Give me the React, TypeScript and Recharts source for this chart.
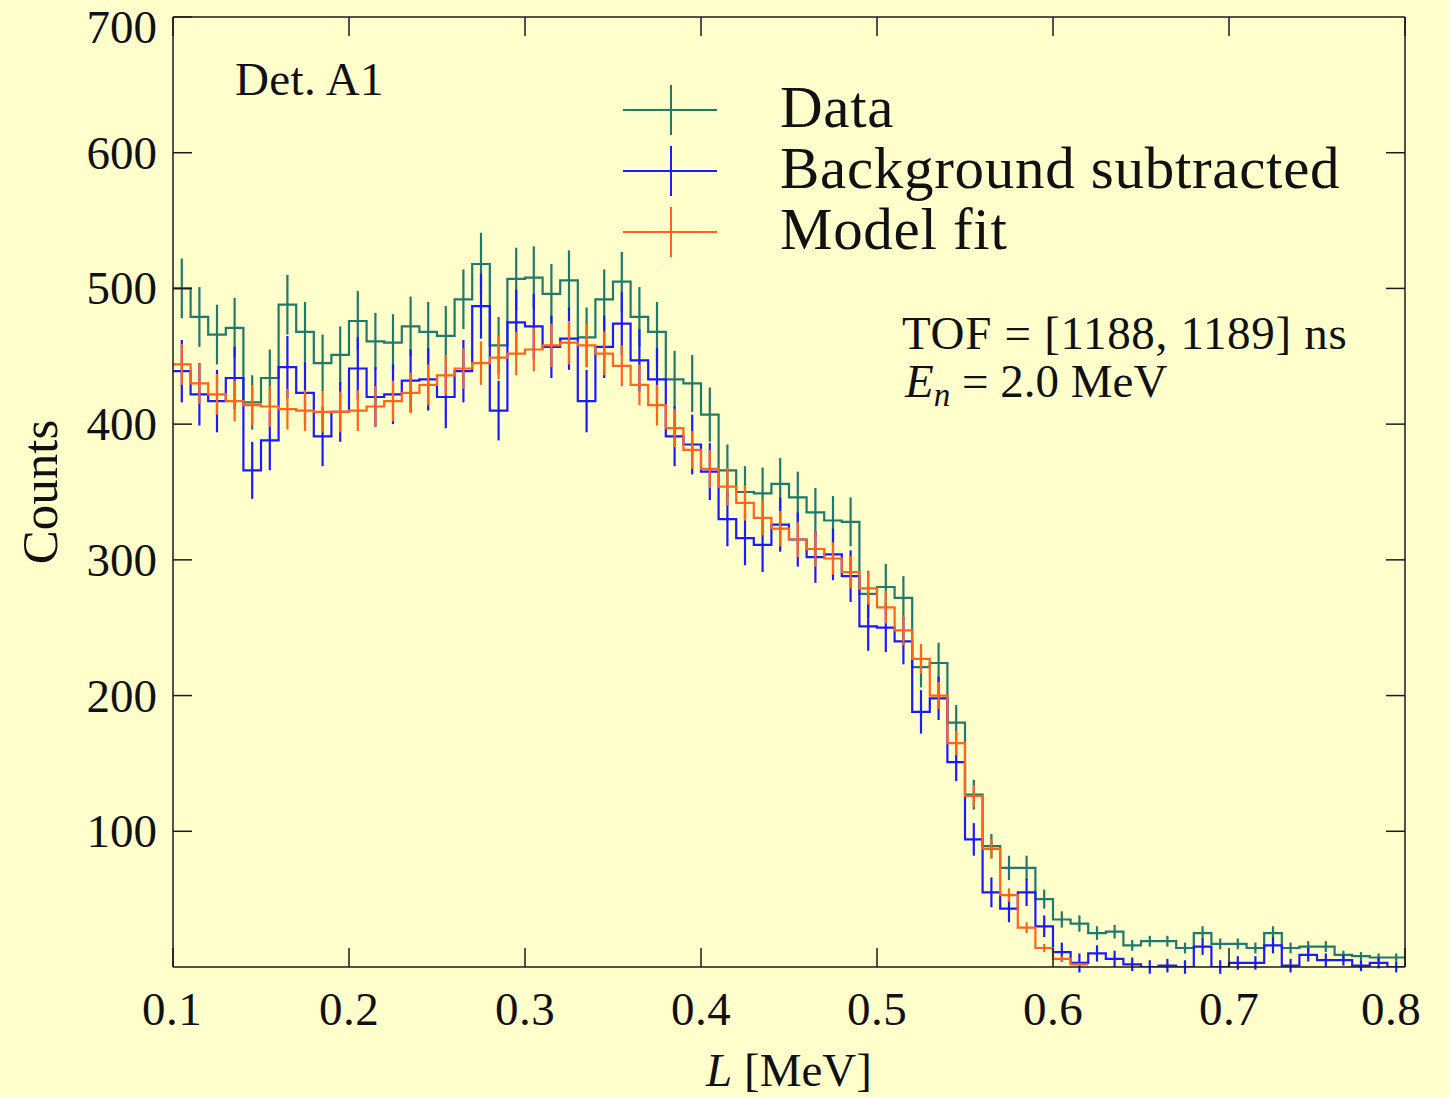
import React from 'react';
import { ComposedChart, Line, XAxis, YAxis, ErrorBar, Customized } from 'recharts';

const FONT = '"Liberation Serif", "Times New Roman", serif';

const BIN_EDGES = [
  0.10, 0.11, 0.12, 0.13, 0.14, 0.15, 0.16, 0.17, 0.18, 0.19,
  0.20, 0.21, 0.22, 0.23, 0.24, 0.25, 0.26, 0.27, 0.28, 0.29,
  0.30, 0.31, 0.32, 0.33, 0.34, 0.35, 0.36, 0.37, 0.38, 0.39,
  0.40, 0.41, 0.42, 0.43, 0.44, 0.45, 0.46, 0.47, 0.48, 0.49,
  0.50, 0.51, 0.52, 0.53, 0.54, 0.55, 0.56, 0.57, 0.58, 0.59,
  0.60, 0.61, 0.62, 0.63, 0.64, 0.65, 0.66, 0.67, 0.68, 0.69,
  0.70, 0.71, 0.72, 0.73, 0.74, 0.75, 0.76, 0.77, 0.78, 0.79,
  0.80,
];

const DATA_COUNTS = [
  500, 479, 466, 471, 416, 434, 488, 468, 445, 451,
  476, 461, 460, 472, 468, 465, 492, 518, 458, 507,
  508, 496, 506, 464, 492, 505, 479, 468, 433, 430,
  407, 366, 350, 349, 356, 346, 335, 329, 328, 275,
  280, 272, 221, 224, 180, 127, 89, 73, 73, 50,
  35, 32, 25, 26, 16, 19, 19, 14, 25, 17,
  17, 14, 25, 14, 15, 15, 9, 8, 7, 7,
];
const DATA_ERR = [
  22, 22, 22, 22, 20, 21, 22, 22, 21, 21,
  22, 21, 21, 22, 22, 22, 22, 23, 21, 23,
  23, 22, 22, 22, 22, 22, 22, 22, 21, 21,
  20, 19, 19, 19, 19, 19, 18, 18, 18, 17,
  17, 16, 15, 15, 13, 11, 9, 9, 9, 7,
  6, 6, 5, 5, 4, 4, 4, 4, 5, 4,
  4, 4, 5, 4, 4, 4, 3, 3, 3, 3,
];

const BKG_SUB_COUNTS = [
  439, 422, 417, 434, 366, 388, 442, 423, 391, 409,
  441, 420, 422, 432, 433, 420, 439, 487, 410, 475,
  472, 457, 463, 417, 457, 474, 447, 433, 391, 385,
  365, 330, 316, 311, 326, 315, 302, 304, 288, 251,
  250, 240, 188, 198, 151, 94, 55, 43, 55, 30,
  11, 3, 10, 6, 2, 0, 1, 0, 15, 0,
  3, 3, 16, 1, 9, 5, 5, 1, 3, 0,
];
const BKG_SUB_ERR = [
  23, 23, 23, 23, 21, 22, 23, 23, 22, 22,
  23, 22, 22, 23, 23, 23, 23, 24, 22, 24,
  24, 23, 23, 23, 23, 23, 23, 23, 22, 22,
  21, 20, 20, 20, 20, 20, 19, 19, 19, 18,
  18, 17, 16, 16, 14, 12, 11, 10, 10, 8,
  7, 7, 6, 6, 5, 5, 5, 5, 6, 5,
  5, 5, 6, 5, 5, 5, 4, 4, 4, 4,
];

const MODEL_COUNTS = [
  444, 430, 422, 417, 414, 413, 411, 410, 409, 409,
  410, 413, 417, 423, 429, 436, 441, 445, 449, 452,
  455, 458, 460, 458, 452, 443, 429, 414, 397, 381,
  367, 354, 342, 331, 323, 315, 308, 301, 291, 279,
  265, 248, 227, 200, 165, 126, 87, 53, 29, 14,
  6, 2,
];
const MODEL_ERR = [
  15, 15, 15, 15, 15, 15, 15, 15, 15, 15,
  15, 15, 15, 15, 15, 15, 15, 16, 16, 16,
  16, 16, 16, 16, 16, 15, 15, 15, 14, 14,
  14, 14, 13, 13, 13, 13, 13, 12, 12, 12,
  12, 11, 11, 10, 9, 8, 7, 5, 4, 3,
  2, 1,
];

const X_TICKS = [0.1, 0.2, 0.3, 0.4, 0.5, 0.6, 0.7, 0.8];
const Y_TICKS = [100, 200, 300, 400, 500, 600, 700];
const Y_TICKS_RIGHT = [100, 200, 300, 400, 500, 600];

const C_DATA = '#1f7a6b';
const C_BKG = '#1a1aff';
const C_MODEL = '#ff6419';
const C_AXIS = '#1a1a1a';

function stepData(values: number[]) {
  const pts = values.map((v, i) => ({ x: BIN_EDGES[i], y: v }));
  pts.push({ x: BIN_EDGES[values.length], y: values[values.length - 1] });
  return pts;
}
function centerData(values: number[], errs: number[]) {
  return values.map((v, i) => ({ x: (BIN_EDGES[i] + BIN_EDGES[i + 1]) / 2, y: v, e: errs[i] }));
}

const BottomTick = (props: any) => {
  const { x, y, payload } = props;
  const v = payload.value as number;
  const shift = v > 0.79 ? -14 : v < 0.11 ? -1 : 0;
  return (
    <g>
      <line x1={x} y1={y} x2={x} y2={y - 19} stroke={C_AXIS} strokeWidth={1.5} />
      <text x={x + shift} y={y + 58} textAnchor="middle" fontSize={47} fill="#111" fontFamily={FONT} letterSpacing={0.5}>
        {v.toFixed(1)}
      </text>
    </g>
  );
};
const TopTick = (props: any) => {
  const { x, y } = props;
  return <line x1={x} y1={y} x2={x} y2={y + 19} stroke={C_AXIS} strokeWidth={1.5} />;
};
const LeftTick = (props: any) => {
  const { x, y, payload } = props;
  const v = payload.value as number;
  const base = v >= 700 ? y + 26 : y + 16;
  return (
    <g>
      <line x1={x} y1={y} x2={x + 19} y2={y} stroke={C_AXIS} strokeWidth={1.5} />
      <text x={x - 16} y={base} textAnchor="end" fontSize={47} fill="#111" fontFamily={FONT}>
        {String(v)}
      </text>
    </g>
  );
};
const RightTick = (props: any) => {
  const { x, y } = props;
  return <line x1={x} y1={y} x2={x - 19} y2={y} stroke={C_AXIS} strokeWidth={1.5} />;
};

const LEGEND = [
  { label: 'Data', color: C_DATA, y: 110 },
  { label: 'Background subtracted', color: C_BKG, y: 171 },
  { label: 'Model fit', color: C_MODEL, y: 232 },
];

const Annotations = () => (
  <g fontFamily={FONT} fill="#111">
    <text x={235} y={95} fontSize={47} letterSpacing={0.4}>Det. A1</text>
    {LEGEND.map((l) => (
      <g key={l.label}>
        <line x1={623} y1={l.y} x2={717} y2={l.y} stroke={l.color} strokeWidth={2} />
        <line x1={671} y1={l.y - 25} x2={671} y2={l.y + 25} stroke={l.color} strokeWidth={2} />
        <text x={780} y={l.y + 17} fontSize={59} letterSpacing={0.7}>{l.label}</text>
      </g>
    ))}
    <text x={902} y={349} fontSize={47} letterSpacing={0.7}>TOF = [1188, 1189] ns</text>
    <text x={905} y={397} fontSize={47}>
      <tspan fontStyle="italic">E</tspan>
      <tspan fontStyle="italic" fontSize={33} dy={9}>n</tspan>
      <tspan dy={-9}> = 2.0 MeV</tspan>
    </text>
    <text x={57} y={492} fontSize={51} textAnchor="middle" transform="rotate(-90 57 492)">Counts</text>
    <text x={789} y={1086} fontSize={47} textAnchor="middle">
      <tspan fontStyle="italic">L</tspan>
      <tspan> [MeV]</tspan>
    </text>
  </g>
);

export default function App() {
  return (
    <div style={{ position: 'absolute', left: 0, top: 0, width: 1450, height: 1098, background: '#ffffcc', overflow: 'hidden' }}>
      <ComposedChart width={1450} height={1098} margin={{ top: 7, right: 25, bottom: 31, left: 53 }}>
        <XAxis xAxisId="b" dataKey="x" type="number" domain={[0.1, 0.8]} ticks={X_TICKS} interval={0}
          allowDataOverflow orientation="bottom" height={100} tickSize={0} tickMargin={0}
          tick={<BottomTick />} tickLine={false} axisLine={{ stroke: C_AXIS, strokeWidth: 1.5 }} />
        <XAxis xAxisId="t" dataKey="x" type="number" domain={[0.1, 0.8]} ticks={X_TICKS} interval={0}
          allowDataOverflow orientation="top" height={10} tickSize={0} tickMargin={0}
          tick={<TopTick />} tickLine={false} axisLine={{ stroke: C_AXIS, strokeWidth: 1.5 }} />
        <YAxis yAxisId="l" type="number" domain={[0, 700]} ticks={Y_TICKS} interval={0}
          allowDataOverflow orientation="left" width={120} tickSize={0} tickMargin={0}
          tick={<LeftTick />} tickLine={false} axisLine={{ stroke: C_AXIS, strokeWidth: 1.5 }} />
        <YAxis yAxisId="r" type="number" domain={[0, 700]} ticks={Y_TICKS_RIGHT} interval={0}
          allowDataOverflow orientation="right" width={20} tickSize={0} tickMargin={0}
          tick={<RightTick />} tickLine={false} axisLine={{ stroke: C_AXIS, strokeWidth: 1.5 }} />

        <Line xAxisId="b" yAxisId="l" data={stepData(DATA_COUNTS)} dataKey="y" type="stepAfter"
          stroke={C_DATA} strokeWidth={2.2} dot={false} activeDot={false} isAnimationActive={false} />
        <Line xAxisId="b" yAxisId="l" data={centerData(DATA_COUNTS, DATA_ERR)} dataKey="y" type="linear"
          stroke="none" dot={false} activeDot={false} isAnimationActive={false}>
          <ErrorBar dataKey="e" direction="y" width={0} stroke={C_DATA} strokeWidth={2.2} isAnimationActive={false} />
        </Line>

        <Line xAxisId="b" yAxisId="l" data={stepData(BKG_SUB_COUNTS)} dataKey="y" type="stepAfter"
          stroke={C_BKG} strokeWidth={2.2} dot={false} activeDot={false} isAnimationActive={false} />
        <Line xAxisId="b" yAxisId="l" data={centerData(BKG_SUB_COUNTS, BKG_SUB_ERR)} dataKey="y" type="linear"
          stroke="none" dot={false} activeDot={false} isAnimationActive={false}>
          <ErrorBar dataKey="e" direction="y" width={0} stroke={C_BKG} strokeWidth={2.2} isAnimationActive={false} />
        </Line>

        <Line xAxisId="b" yAxisId="l" data={stepData(MODEL_COUNTS)} dataKey="y" type="stepAfter"
          stroke={C_MODEL} strokeWidth={2.2} dot={false} activeDot={false} isAnimationActive={false} />
        <Line xAxisId="b" yAxisId="l" data={centerData(MODEL_COUNTS, MODEL_ERR)} dataKey="y" type="linear"
          stroke="none" dot={false} activeDot={false} isAnimationActive={false}>
          <ErrorBar dataKey="e" direction="y" width={0} stroke={C_MODEL} strokeWidth={2.2} isAnimationActive={false} />
        </Line>

        <Customized component={Annotations} />
      </ComposedChart>
    </div>
  );
}
